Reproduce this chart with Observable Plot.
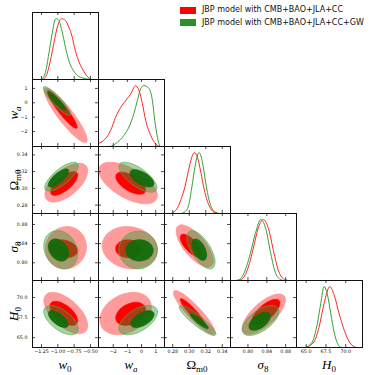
<!DOCTYPE html>
<html><head><meta charset="utf-8">
<script src="https://cdn.jsdelivr.net/npm/d3@7"></script>
<script src="https://cdn.jsdelivr.net/npm/@observablehq/plot@0.6"></script>
<style>
body{margin:0;background:#fff;}
#chart{position:relative;width:374px;height:375px;overflow:hidden;background:#fff;font-family:"DejaVu Sans",sans-serif;}
#chart svg{position:absolute;}
.ttl{position:absolute;font-family:"Liberation Serif",serif;font-size:13px;white-space:nowrap;color:#000;transform:translate(-50%,-50%);line-height:1;}
.ttl .s{font-size:9px;position:relative;top:3px;}
.rot{transform:translate(-50%,-50%) rotate(-90deg);}
.leg{position:absolute;font-size:8px;color:#111;white-space:nowrap;line-height:1;}
.sw{position:absolute;width:16px;height:6.5px;}
</style></head><body><div id="chart"></div>
<script>
// ---------- data ----------
const paramKeys = ["w0","wa","Om","s8","H0"];
const domainW0 = [-1.388, -0.377];
const domainWa = [-3.04, 1.62];
const domainOm = [0.270, 0.350];
const domainS8 = [0.763, 0.903];
const domainH0 = [63.78, 72.12];
const ticksW0 = [-1.25, -1.00, -0.75, -0.50];
const ticksWa = [-2, -1, 0, 1];
const ticksOm = [0.28, 0.30, 0.32, 0.34];
const ticksS8 = [0.80, 0.84, 0.88];
const ticksH0 = [65.0, 67.5, 70.0];
const legendLabels = ["JBP model with CMB+BAO+JLA+CC", "JBP model with CMB+BAO+JLA+CC+GW"];

// 1D marginal densities [value, relative density]
const pdfW0CC = [[-1.24,0],[-1.215,0.01],[-1.17,0.08],[-1.138,0.2],[-1.10,0.38],[-1.062,0.59],[-1.0,0.89],[-0.944,1.0],[-0.883,0.97],[-0.832,0.86],[-0.78,0.70],[-0.745,0.53],[-0.694,0.34],[-0.627,0.18],[-0.55,0.05],[-0.49,0.0]];
const pdfW0GW = [[-1.26,0],[-1.25,0.005],[-1.189,0.12],[-1.138,0.42],[-1.087,0.75],[-1.05,0.96],[-1.025,1.0],[-0.985,0.97],[-0.933,0.78],[-0.883,0.53],[-0.832,0.31],[-0.78,0.18],[-0.704,0.07],[-0.602,0.02],[-0.5,0]];
const pdfWaCC = [[-3.04,0.05],[-2.54,0.13],[-2.19,0.26],[-1.83,0.48],[-1.48,0.64],[-1.13,0.75],[-0.77,0.86],[-0.42,1.0],[-0.18,0.92],[0.06,0.70],[0.29,0.43],[0.65,0.18],[1.0,0.04],[1.24,0]];
const pdfWaGW = [[-2.3,0],[-2.07,0.01],[-1.71,0.07],[-1.25,0.18],[-0.89,0.32],[-0.54,0.54],[-0.30,0.75],[-0.06,0.95],[0.17,1.0],[0.53,0.95],[0.77,0.75],[0.93,0.43],[1.12,0.15],[1.29,0.0]];
const pdfOmCC = [[0.278,0],[0.282,0.03],[0.286,0.1],[0.290,0.23],[0.295,0.45],[0.299,0.7],[0.303,0.92],[0.306,1.0],[0.310,0.92],[0.314,0.68],[0.318,0.4],[0.322,0.2],[0.326,0.08],[0.330,0.02],[0.336,0]];
const pdfOmGW = [[0.290,0],[0.295,0.03],[0.299,0.12],[0.303,0.42],[0.307,0.77],[0.310,0.96],[0.312,1.0],[0.316,0.84],[0.320,0.5],[0.324,0.22],[0.328,0.07],[0.332,0.02],[0.336,0]];
const pdfS8CC = [[0.7805,0],[0.791,0.05],[0.798,0.16],[0.805,0.33],[0.812,0.55],[0.8226,0.88],[0.833,1.0],[0.8436,0.85],[0.8541,0.49],[0.8647,0.16],[0.8752,0.03],[0.8857,0]];
const pdfS8GW = [[0.7735,0],[0.783,0.02],[0.791,0.11],[0.805,0.44],[0.8156,0.77],[0.8276,1.0],[0.8388,0.82],[0.8472,0.49],[0.8577,0.14],[0.8683,0.02],[0.8752,0]];
const pdfH0CC = [[64.91,0],[65.98,0.09],[66.62,0.33],[67.26,0.72],[67.99,1.0],[68.54,0.86],[69.18,0.55],[69.82,0.28],[70.46,0.09],[71.32,0]];
const pdfH0GW = [[64.91,0],[65.77,0.09],[66.41,0.39],[66.84,0.72],[67.26,1.0],[67.7,0.86],[68.12,0.55],[68.54,0.25],[68.98,0.06],[69.4,0]];

// 2D confidence regions: [xParam, yParam, level, centerX, centerY, halfWidthX, halfWidthY, correlation]
const regionsCC = [
  ["w0","wa","outer",-0.88,-0.87,0.33,1.9,-0.9],
  ["w0","wa","inner",-0.933,-0.47,0.23,1.32,-0.93],
  ["w0","Om","outer",-0.870,0.3068,0.329,0.0233,0.6],
  ["w0","Om","inner",-0.903,0.3058,0.209,0.0143,0.7],
  ["w0","s8","outer",-0.875,0.8315,0.314,0.0443,0.05],
  ["w0","s8","inner",-0.916,0.8294,0.222,0.019,-0.2],
  ["w0","H0","outer",-0.878,68.07,0.337,2.58,-0.6],
  ["w0","H0","inner",-0.909,68.03,0.214,1.51,-0.6],
  ["wa","Om","outer",-0.95,0.3064,2.07,0.0249,-0.6],
  ["wa","Om","inner",-0.77,0.3061,1.06,0.0133,-0.6],
  ["wa","s8","outer",-0.83,0.8315,1.95,0.0443,-0.1],
  ["wa","s8","inner",-0.95,0.8294,0.89,0.019,0],
  ["wa","H0","outer",-1.125,68.01,1.82,2.64,0.3],
  ["wa","H0","inner",-0.77,67.97,1.06,1.45,0.35],
  ["Om","s8","outer",0.3066,0.8351,0.0226,0.0443,-0.7],
  ["Om","s8","inner",0.302,0.836,0.013,0.024,-0.7],
  ["Om","H0","outer",0.306,68.14,0.0252,2.73,-0.9],
  ["Om","H0","inner",0.304,68.2,0.015,1.67,-0.92],
  ["s8","H0","outer",0.8336,67.93,0.046,2.52,0.7],
  ["s8","H0","inner",0.838,68.2,0.03,1.6,0.7]
];
const regionsGW = [
  ["w0","wa","outer",-1.015,0.125,0.209,1.0,-0.9],
  ["w0","wa","inner",-1.015,0.105,0.133,0.625,-0.91],
  ["w0","Om","outer",-0.944,0.3140,0.256,0.0173,0.75],
  ["w0","Om","inner",-0.990,0.3124,0.158,0.011,0.75],
  ["w0","s8","outer",-0.955,0.8273,0.26,0.040,-0.2],
  ["w0","s8","inner",-0.990,0.8267,0.158,0.0234,-0.3],
  ["w0","H0","outer",-0.952,67.18,0.263,1.82,-0.6],
  ["w0","H0","inner",-0.994,67.31,0.153,1.07,-0.65],
  ["wa","Om","outer",-0.26,0.3133,1.34,0.0179,-0.7],
  ["wa","Om","inner",0.03,0.312,0.85,0.0105,-0.6],
  ["wa","s8","outer",-0.24,0.8267,1.36,0.0393,0],
  ["wa","s8","inner",-0.15,0.826,0.98,0.0226,0],
  ["wa","H0","outer",-0.24,67.18,1.36,1.82,0.55],
  ["wa","H0","inner",0.06,67.31,0.83,1.07,0.55],
  ["Om","s8","outer",0.3142,0.8273,0.017,0.040,-0.65],
  ["Om","s8","inner",0.3122,0.8273,0.009,0.0226,-0.5],
  ["Om","H0","outer",0.310,67.14,0.0222,1.86,-0.9],
  ["Om","H0","inner",0.3122,67.04,0.011,0.93,-0.9],
  ["s8","H0","outer",0.8266,67.14,0.0388,1.86,0.6],
  ["s8","H0","inner",0.8249,67.04,0.023,1.14,0.55]
];

// ---------- build ----------
const P = {
  w0:{domain:domainW0,ticks:ticksW0,fmt:d3.format(".2f"),cc:pdfW0CC,gw:pdfW0GW,title:'<i>w</i><span class="s">0</span>'},
  wa:{domain:domainWa,ticks:ticksWa,fmt:d3.format("d"),cc:pdfWaCC,gw:pdfWaGW,title:'<i>w</i><span class="s"><i>a</i></span>'},
  Om:{domain:domainOm,ticks:ticksOm,fmt:d3.format(".2f"),cc:pdfOmCC,gw:pdfOmGW,title:'Ω<span class="s">m0</span>'},
  s8:{domain:domainS8,ticks:ticksS8,fmt:d3.format(".2f"),cc:pdfS8CC,gw:pdfS8GW,title:'<i>σ</i><span class="s">8</span>'},
  H0:{domain:domainH0,ticks:ticksH0,fmt:d3.format(".1f"),cc:pdfH0CC,gw:pdfH0GW,title:'<i>H</i><span class="s">0</span>'}
};
const X0 = 32, Y0 = 12, PW = 66, PH = 67;
const chart = document.getElementById("chart");

function outline(row) {
  const [, , , cx, cy, hx, hy, rho] = row;
  const s = Math.sqrt(1 - rho*rho), pts = [];
  for (let i = 0; i < 96; i++) {
    const t = 2*Math.PI*i/96;
    pts.push([cx + hx*Math.cos(t), cy + hy*(rho*Math.cos(t) + s*Math.sin(t))]);
  }
  return pts;
}
const styleCC = {outer:{fill:"#ff9b9b",fillOpacity:1,stroke:"#ff8585",strokeWidth:0.5},
                 inner:{fill:"#ff0000",fillOpacity:1,stroke:"#ff0000",strokeWidth:0.4}};
const styleGW = {outer:{fill:"#2f962f",fillOpacity:0.42,stroke:"#4fae4f",strokeWidth:0.7},
                 inner:{fill:"#116b09",fillOpacity:0.95,stroke:"#116b09",strokeWidth:0.4}};

function panel(r, c) {
  const kx = paramKeys[c], ky = paramKeys[r];
  const px = P[kx], py = P[ky];
  const diag = r === c;
  const ml = c === 0 ? 32 : 0, mb = r === 4 ? 22 : 0;
  const marks = [];
  if (diag) {
    marks.push(Plot.line(px.cc, {x: d => d[0], y: d => d[1], stroke: "#ff2626", strokeWidth: 1, curve: "monotone-x"}));
    marks.push(Plot.line(px.gw, {x: d => d[0], y: d => d[1], stroke: "#36a036", strokeWidth: 1, curve: "monotone-x"}));
  } else {
    for (const [rows, st] of [[regionsCC, styleCC], [regionsGW, styleGW]]) {
      for (const lev of ["outer", "inner"]) {
        const row = rows.find(d => d[0] === kx && d[1] === ky && d[2] === lev);
        if (row) marks.push(Plot.line(outline(row), {x: d => d[0], y: d => d[1], curve: "catmull-rom-closed", ...st[lev]}));
      }
    }
  }
  const tk = {stroke: "#222", strokeWidth: 0.8};
  marks.push(Plot.tickX(px.ticks, {x: d => d, insetTop: PH - 3, ...tk}));
  marks.push(Plot.tickX(px.ticks, {x: d => d, insetBottom: PH - 3, ...tk}));
  if (!diag) {
    marks.push(Plot.tickY(py.ticks, {y: d => d, insetRight: PW - 3, ...tk}));
    marks.push(Plot.tickY(py.ticks, {y: d => d, insetLeft: PW - 3, ...tk}));
  }
  marks.push(Plot.frame({stroke: "#111", strokeWidth: 1}));
  const hasX = r === 4, hasY = c === 0 && r > 0;
  if (hasX) marks.push(Plot.axisX({ticks: px.ticks, tickFormat: px.fmt, tickSize: 0, tickPadding: 2.5, fontSize: 4.8, label: null}));
  if (hasY) marks.push(Plot.axisY({ticks: py.ticks, tickFormat: py.fmt, tickSize: 0, tickPadding: 5, fontSize: 4.8, label: null}));
  const svg = Plot.plot({
    width: PW + ml, height: PH + mb,
    marginLeft: ml, marginRight: 0, marginTop: 0, marginBottom: mb,
    x: {domain: px.domain, ...(hasX ? {} : {axis: null})},
    y: {domain: diag ? [0, 1.1] : py.domain, ...(hasY ? {} : {axis: null})},
    style: {background: "transparent", overflow: "visible", fontFamily: "DejaVu Sans", color: "#111"},
    marks
  });
  svg.style.left = (X0 + c*PW - ml) + "px";
  svg.style.top = (Y0 + r*PH) + "px";
  chart.appendChild(svg);
}
for (let r = 0; r < 5; r++) for (let c = 0; c <= r; c++) panel(r, c);

// axis titles
paramKeys.forEach((k, i) => {
  const b = document.createElement("div");
  b.className = "ttl"; b.innerHTML = P[k].title;
  b.style.left = (X0 + i*PW + PW/2) + "px"; b.style.top = "364px";
  chart.appendChild(b);
  if (i > 0) {
    const l = document.createElement("div");
    l.className = "ttl rot"; l.innerHTML = P[k].title;
    l.style.left = "12.5px"; l.style.top = (Y0 + i*PH + PH/2) + "px";
    chart.appendChild(l);
  }
});
// legend
const legColors = ["#ff0000", "#2b8f2b"];
legendLabels.forEach((t, i) => {
  const s = document.createElement("div");
  s.className = "sw"; s.style.background = legColors[i];
  s.style.left = "180px"; s.style.top = (7 + i*12.3) + "px";
  chart.appendChild(s);
  const d = document.createElement("div");
  d.className = "leg"; d.textContent = t;
  d.style.left = "202px"; d.style.top = (6.3 + i*12.3) + "px";
  chart.appendChild(d);
});
</script></body></html>
